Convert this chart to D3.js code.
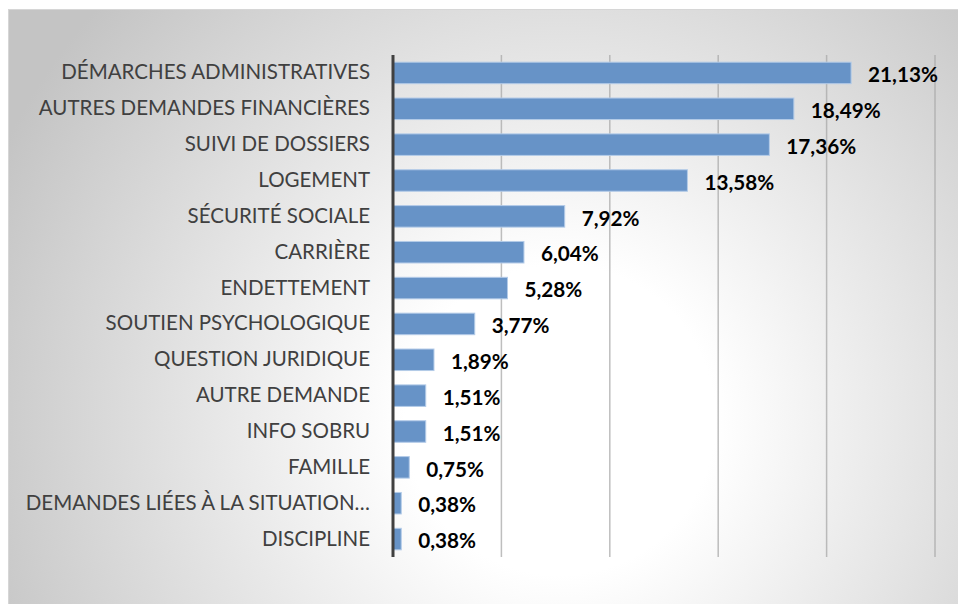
<!DOCTYPE html>
<html>
<head>
<meta charset="utf-8">
<script src="https://cdn.jsdelivr.net/npm/d3@7"></script>
<style>
  body { margin: 0; background: #fff; }
  #chart svg { display: block; }
</style>
</head>
<body>
<div id="chart"></div>
<script>
(function () {
  "use strict";

  var categories = [
    "DÉMARCHES ADMINISTRATIVES",
    "AUTRES DEMANDES FINANCIÈRES",
    "SUIVI DE DOSSIERS",
    "LOGEMENT",
    "SÉCURITÉ SOCIALE",
    "CARRIÈRE",
    "ENDETTEMENT",
    "SOUTIEN PSYCHOLOGIQUE",
    "QUESTION JURIDIQUE",
    "AUTRE DEMANDE",
    "INFO SOBRU",
    "FAMILLE",
    "DEMANDES LIÉES À LA SITUATION…",
    "DISCIPLINE"
  ];
  var values = [21.13, 18.49, 17.36, 13.58, 7.92, 6.04, 5.28, 3.77, 1.89, 1.51, 1.51, 0.75, 0.38, 0.38];
  var gridTicks = [0, 5, 10, 15, 20, 25];

  var w = 958,
    h = 604,
    svg,
    x,
    y,
    fmt = function (v) { return v.toFixed(2).replace(".", ",") + "%"; };

  function createSvg() {
    svg = d3.select("#chart")
      .append("svg")
      .attr("width", w)
      .attr("height", h);

    var defs = svg.append("defs");
    var bg = defs.append("radialGradient")
      .attr("id", "bg")
      .attr("gradientUnits", "userSpaceOnUse")
      .attr("cx", 560).attr("cy", 420).attr("r", 620);
    bg.append("stop").attr("offset", "0%").attr("stop-color", "#ffffff");
    bg.append("stop").attr("offset", "25%").attr("stop-color", "#ffffff");
    bg.append("stop").attr("offset", "100%").attr("stop-color", "#c4c4c4");

    svg.append("rect")
      .attr("x", 8).attr("y", 9)
      .attr("width", w - 8).attr("height", h - 9)
      .attr("fill", "url(#bg)");
    svg.append("line")
      .attr("x1", 8).attr("x2", w).attr("y1", 9.5).attr("y2", 9.5)
      .attr("stroke", "#d6d6d6");
    svg.append("line")
      .attr("x1", 8.5).attr("x2", 8.5).attr("y1", 9).attr("y2", h)
      .attr("stroke", "#d6d6d6");
  }

  function getScales() {
    x = d3.scaleLinear().domain([0, 25]).range([393, 935]);
    y = d3.scaleBand().domain(categories).range([55, 557]).paddingInner(0.4).paddingOuter(0.2);
  }

  function drawGrid() {
    svg.append("g")
      .selectAll("line")
      .data(gridTicks.slice(1))
      .enter().append("line")
      .attr("x1", function (d) { return x(d); })
      .attr("x2", function (d) { return x(d); })
      .attr("y1", 55).attr("y2", 557)
      .attr("stroke", "#a8a8a8")
      .attr("stroke-opacity", 0.75)
      .attr("stroke-width", 1.5);
  }

  function drawBars() {
    svg.append("g")
      .selectAll("rect")
      .data(values)
      .enter().append("rect")
      .attr("x", x(0))
      .attr("y", function (d, i) { return y(categories[i]); })
      .attr("width", function (d) { return x(d) - x(0); })
      .attr("height", y.bandwidth())
      .attr("fill", "#6793c7")
      .attr("stroke", "#b3cbe8")
      .attr("stroke-width", 1);

    svg.append("g")
      .selectAll("text")
      .data(values)
      .enter().append("text")
      .attr("x", function (d) { return x(d) + 17; })
      .attr("y", function (d, i) { return y(categories[i]) + y.bandwidth() / 2 + 2; })
      .attr("dy", "0.35em")
      .attr("font-family", "Lato, sans-serif")
      .attr("font-weight", "bold")
      .attr("font-size", 20.7)
      .attr("fill", "#000")
      .text(fmt);
  }

  function drawAxis() {
    var axis = svg.append("g")
      .attr("transform", "translate(" + x(0) + ",0)")
      .call(d3.axisLeft(y).tickSize(0).tickPadding(23));
    axis.select(".domain")
      .attr("stroke", "#404040")
      .attr("stroke-width", 3)
      .attr("d", "M0,55V557");
    axis.selectAll("text")
      .attr("font-family", "Lato, sans-serif")
      .attr("font-size", 20.5)
      .attr("fill", "#404040");
  }

  getScales();
  createSvg();
  drawGrid();
  drawBars();
  drawAxis();
})();
</script>
</body>
</html>
